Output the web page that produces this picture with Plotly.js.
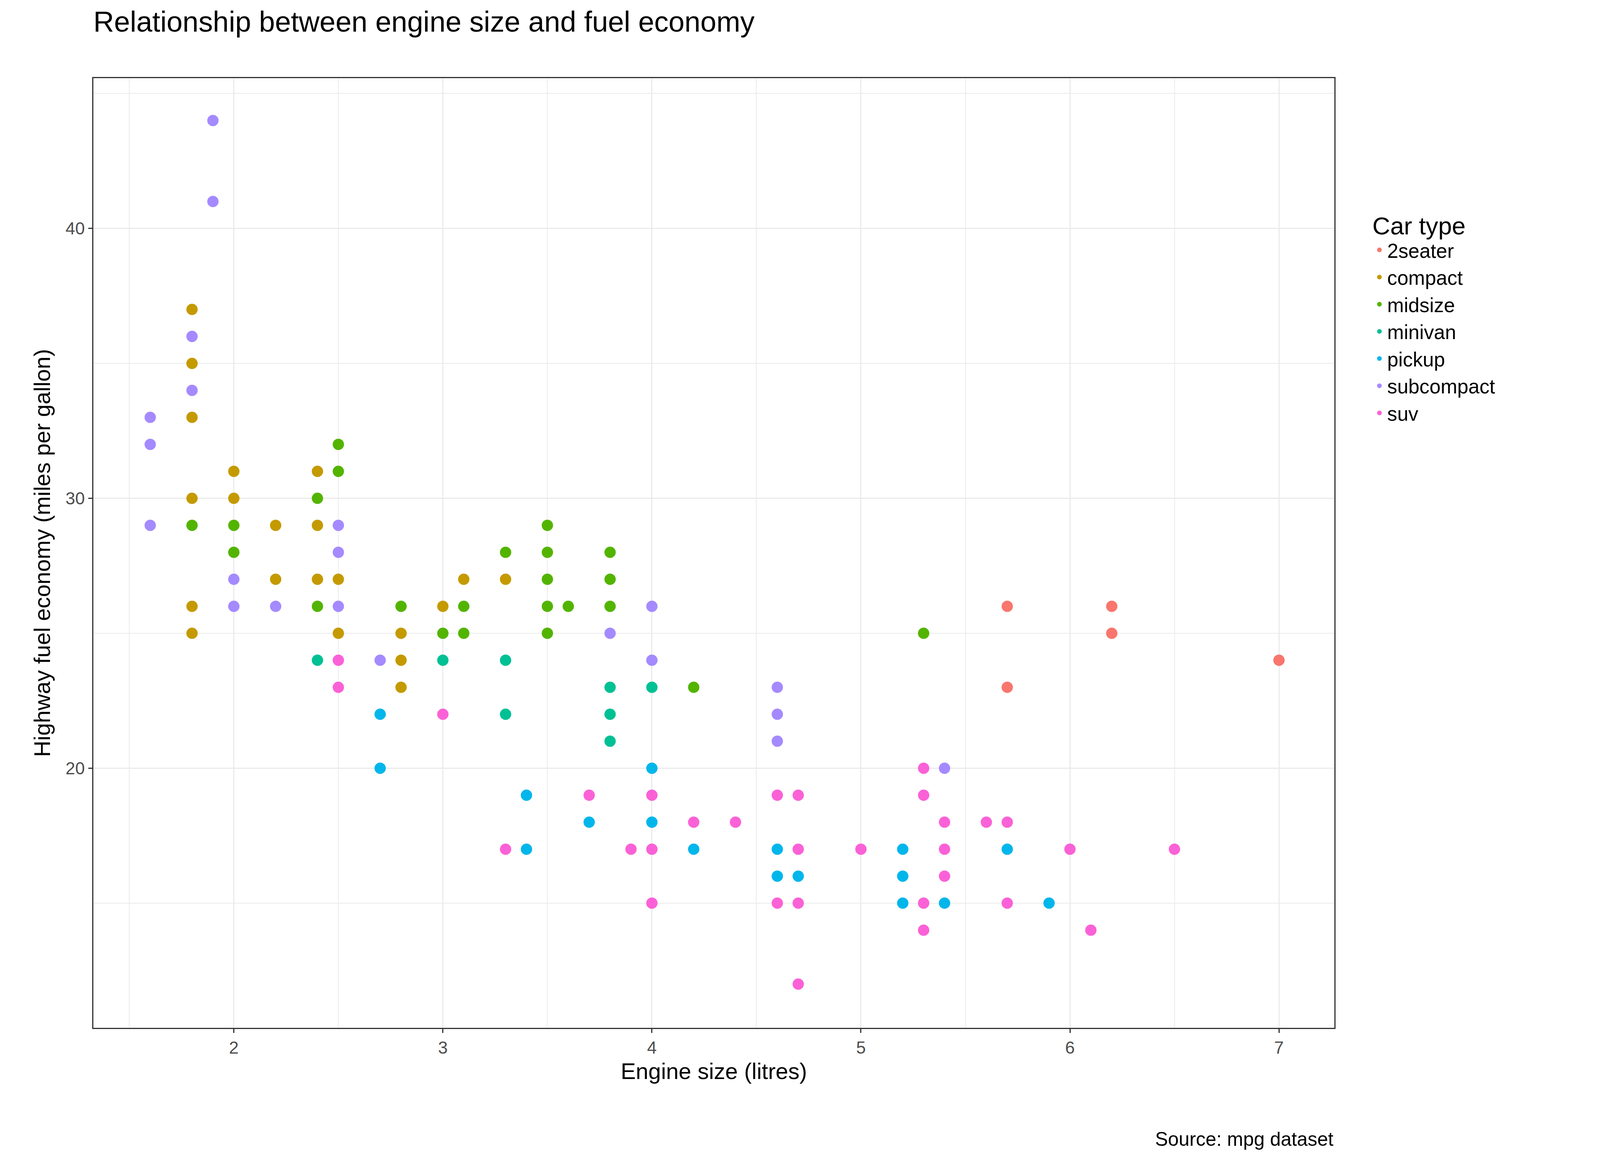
<!DOCTYPE html>
<html><head><meta charset="utf-8">
<script src="https://cdn.plot.ly/plotly-3.0.1.min.js"></script>
<style>html,body{margin:0;padding:0;background:#fff;overflow:hidden}</style>
</head><body><div id="c"></div>
<script>
const classes=["2seater","compact","midsize","minivan","pickup","subcompact","suv"];
const colors=["#F8766D","#C49A00","#53B400","#00C094","#00B6EB","#A58AFF","#FB61D7"];
const displ={
"2seater":[5.7,5.7,6.2,6.2,7],
"compact":[1.8,1.8,1.8,1.8,1.8,1.8,2,2,2.2,2.2,2.4,2.4,2.4,2.5,2.5,2.8,2.8,2.8,3,3.1,3.3],
"midsize":[1.8,2,2,2.4,2.4,2.5,2.5,2.8,3,3.1,3.1,3.3,3.5,3.5,3.5,3.5,3.5,3.6,3.8,3.8,3.8,4.2,5.3],
"minivan":[2.4,3,3.3,3.3,3.8,3.8,3.8,4],
"pickup":[2.7,2.7,3.4,3.4,3.7,4,4,4.2,4.6,4.6,4.7,5.2,5.2,5.2,5.4,5.7,5.9],
"subcompact":[1.6,1.6,1.6,1.9,1.9,1.8,1.8,2,2,2.2,2.5,2.5,2.5,2.7,3.8,4,4,4.6,4.6,4.6,5.4],
"suv":[2.5,2.5,3,3.3,3.7,3.9,4,4,4,4.2,4.4,4.6,4.6,4.7,4.7,4.7,4.7,5,5.3,5.3,5.3,5.3,5.4,5.4,5.4,5.6,5.7,5.7,6,6.1,6.5]
};
const hwy={
"2seater":[26,23,26,25,24],
"compact":[37,35,33,30,26,25,31,30,29,27,31,29,27,27,25,25,24,23,26,27,27],
"midsize":[29,29,28,30,26,32,31,26,25,26,25,28,29,28,27,26,25,26,28,27,26,23,25],
"minivan":[24,24,24,22,23,22,21,23],
"pickup":[22,20,19,17,18,20,18,17,17,16,16,17,16,15,15,17,15],
"subcompact":[33,32,29,44,41,36,34,27,26,26,29,28,26,24,25,26,24,23,22,21,20],
"suv":[24,23,22,17,19,17,19,17,15,18,18,19,15,19,17,15,12,17,20,19,15,14,18,17,16,18,18,15,17,14,17]
};
const W=window.innerWidth||4800, H=window.innerHeight||3000;
const s=W/4800, sy=H/3000;
const F="Liberation Sans, Arial, sans-serif";
const traces=classes.map((c,i)=>({type:"scatter",mode:"markers",name:c,x:displ[c],y:hwy[c],
 marker:{color:colors[i],size:34*s,line:{width:0}}}));
const ax={showline:true,mirror:true,linecolor:"#333",linewidth:3*s,gridcolor:"#EBEBEB",gridwidth:4*s,
 ticks:"outside",ticklen:12*s,tickwidth:3*s,tickcolor:"#333",zeroline:false,
 tickfont:{family:F,size:52*s,color:"#4D4D4D"}};
Plotly.newPlot("c",traces,{
 width:W,height:H,paper_bgcolor:"#fff",plot_bgcolor:"#fff",
 margin:{l:280*s,r:797*s,t:200*sy,b:369*sy},
 font:{family:F},
 title:{text:"Relationship between engine size and fuel economy",x:280/4800,xanchor:"left",y:0.99,yanchor:"top",font:{family:F,size:86*s,color:"#000"}},
 xaxis:Object.assign({},ax,{range:[1.328,7.265],tick0:2,dtick:1,
   minor:{dtick:0.5,tick0:1.5,showgrid:true,gridcolor:"#EBEBEB",gridwidth:2*s,ticklen:0},
   title:{text:"Engine size (litres)",font:{family:F,size:68*s,color:"#000"},standoff:20*s}}),
 yaxis:Object.assign({},ax,{range:[10.38,45.57],tick0:20,dtick:10,
   minor:{dtick:5,tick0:15,showgrid:true,gridcolor:"#EBEBEB",gridwidth:2*s,ticklen:0},
   title:{text:"Highway fuel economy (miles per gallon)",font:{family:F,size:68*s,color:"#000"},standoff:25*s}}),
 legend:{x:1.03,xanchor:"left",y:0.75,yanchor:"middle",font:{family:F,size:60*s,color:"#000"},
   title:{text:"Car type",font:{family:F,size:74*s,color:"#000"}},itemsizing:"constant",tracegroupgap:30*s},
 annotations:[{text:"Source: mpg dataset",xref:"paper",yref:"paper",x:1,y:0,xanchor:"right",yanchor:"top",yshift:-255*sy,showarrow:false,font:{family:F,size:58*s,color:"#000"}}]
},{displayModeBar:false});
</script></body></html>
